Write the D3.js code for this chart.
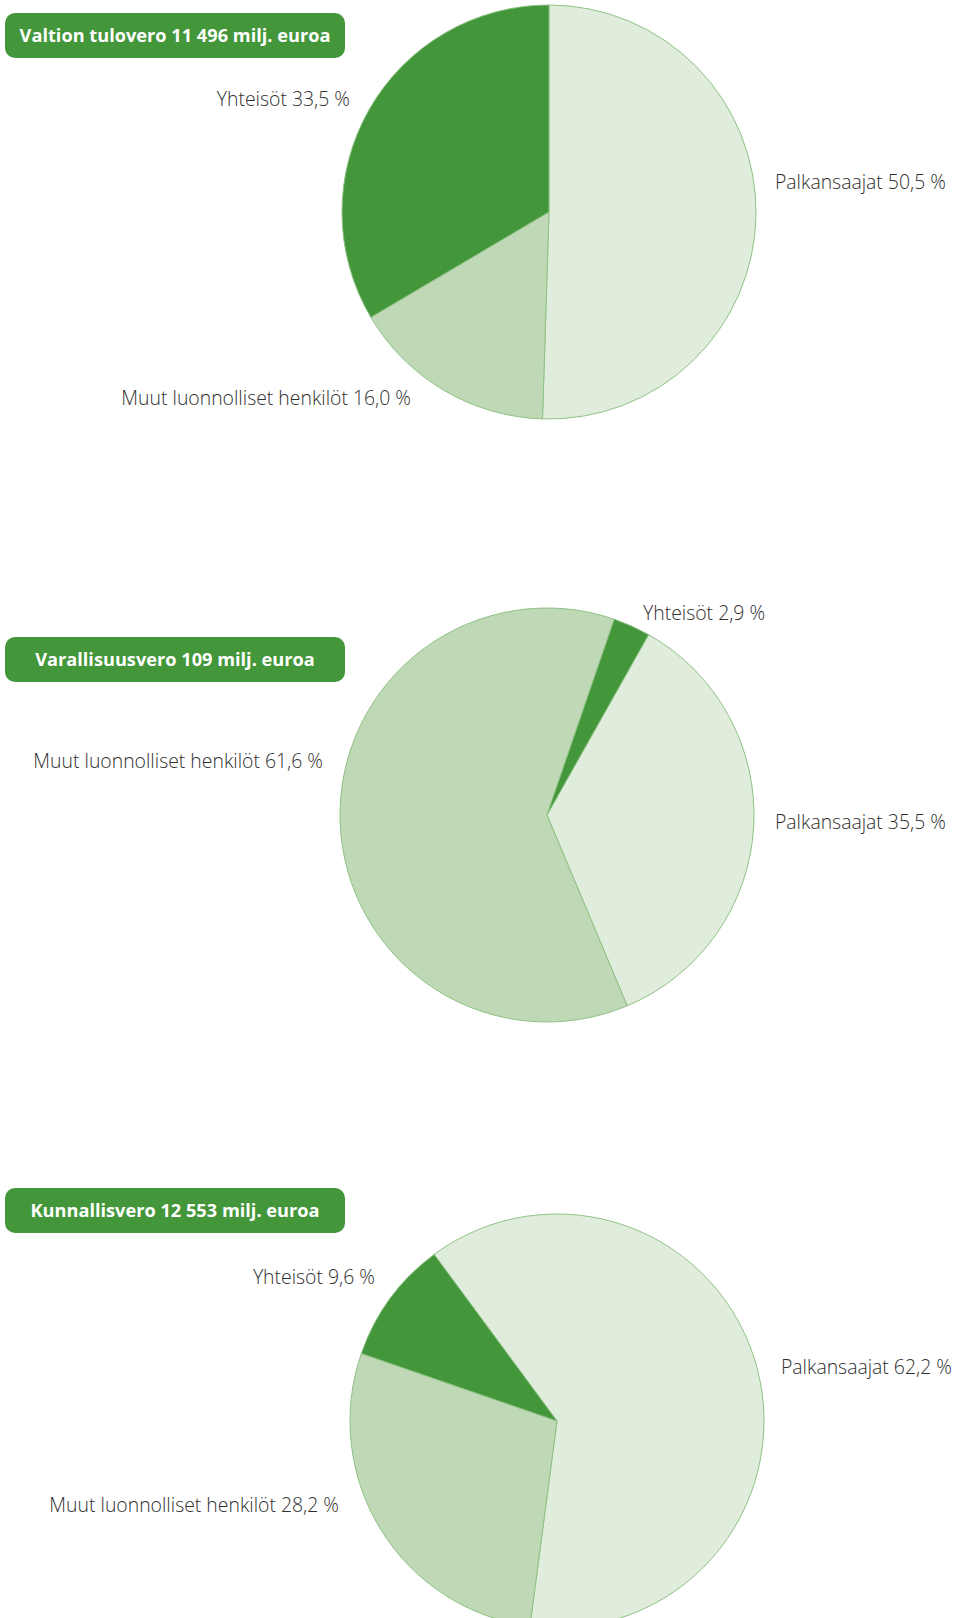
<!DOCTYPE html>
<html>
<head>
<meta charset="utf-8">
<script src="https://cdn.jsdelivr.net/npm/d3@7"></script>
<style>
    body { margin: 0; background: #fff; }
    .title { font-family: "Open Sans", sans-serif; font-weight: 700; fill: #fff; }
    .label { font-family: "Open Sans", sans-serif; font-weight: 300; fill: #2f2f2f; }
</style>
</head>
<body>
<div id="chart"></div>
<script>
// Income tax breakdown by taxpayer group, three pies
const titles = [
    "Valtion tulovero 11 496 milj. euroa",
    "Varallisuusvero 109 milj. euroa",
    "Kunnallisvero 12 553 milj. euroa"
];
const groups = ["Palkansaajat", "Muut luonnolliset henkilöt", "Yhteisöt"];
const valtion = [50.5, 16.0, 33.5];
const varallisuus = [35.5, 61.6, 2.9];
const kunnallis = [62.2, 28.2, 9.6];
const series = [valtion, varallisuus, kunnallis];

// rotation of the first slice (degrees clockwise from 12 o'clock)
const startDeg = [0, 29.4, -36.4];

(() => {
    const W = 954, H = 1618;
    const svg = d3.select("#chart").append("svg").attr("width", W).attr("height", H);

    const color = d3.scaleOrdinal().domain(groups).range(["#e0eddc", "#bfd8b5", "#43963a"]);
    const fmt = v => d3.format(".1f")(v).replace(".", ",") + " %";

    // layout: pie centre, title box top, label anchors [x, y, anchor]
    const layout = [
        { cx: 549, cy: 212, boxY: 13, labels: [[775, 182, "start"], [411, 398, "end"], [350, 99, "end"]] },
        { cx: 547, cy: 815, boxY: 637, labels: [[775, 822, "start"], [323, 761, "end"], [643, 613, "start"]] },
        { cx: 557, cy: 1421, boxY: 1188, labels: [[781, 1367, "start"], [339, 1505, "end"], [375, 1277, "end"]] }
    ];
    const r = 207;

    series.forEach((vals, i) => {
        const L = layout[i];
        const a0 = startDeg[i] * Math.PI / 180;
        const pie = d3.pie().sort(null).startAngle(a0).endAngle(a0 + 2 * Math.PI);
        const arc = d3.arc().innerRadius(0).outerRadius(r);
        const rows = groups.map((g, j) => ({ group: g, value: vals[j] }));

        const g = svg.append("g").attr("transform", `translate(${L.cx},${L.cy})`);
        g.selectAll("path")
            .data(pie.value(d => d.value)(rows))
            .join("path")
            .attr("d", arc)
            .attr("fill", d => color(d.data.group))
            .attr("stroke", "#8fc285")
            .attr("stroke-width", 1);

        svg.append("rect")
            .attr("x", 5).attr("y", L.boxY)
            .attr("width", 340).attr("height", 45)
            .attr("rx", 10)
            .attr("fill", "#43963a");
        svg.append("text").attr("class", "title")
            .attr("x", 175).attr("y", L.boxY + 22.5)
            .attr("dy", "0.35em")
            .attr("text-anchor", "middle")
            .attr("font-size", 18.2)
            .text(titles[i]);

        rows.forEach((d, j) => {
            const [x, y, anchor] = L.labels[j];
            svg.append("text").attr("class", "label")
                .attr("x", x).attr("y", y)
                .attr("dy", "0.35em")
                .attr("text-anchor", anchor)
                .attr("font-size", 19.4)
                .text(`${d.group} ${fmt(d.value)}`);
        });
    });
})();
</script>
</body>
</html>
